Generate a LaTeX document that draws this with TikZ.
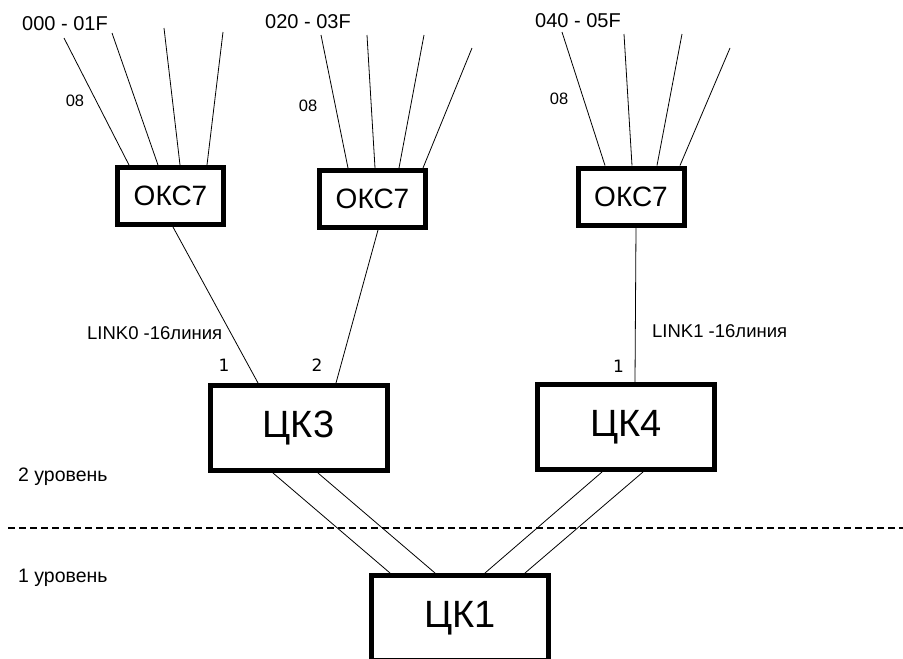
\documentclass[tikz,border=0pt]{standalone}
\usepackage{fontspec}
\setmainfont{Liberation Sans}
\newfontfamily\portfont{DejaVu Sans}
\usetikzlibrary{positioning, calc}
\tikzstyle{okc} = [rectangle, draw=black, line width=5pt, minimum width=106pt, minimum height=57pt, inner sep=0pt, text centered, font=\fontsize{28}{30}\selectfont]
\tikzstyle{ck} = [rectangle, draw=black, line width=5pt, minimum width=177pt, minimum height=85pt, inner sep=0pt, text centered, font=\fontsize{38}{40}\selectfont]
\tikzstyle{wire} = [draw, line width=0.8pt]
\tikzstyle{rangelabel} = [anchor=west, inner sep=0pt, font=\fontsize{20}{22}\selectfont]
\tikzstyle{cnt} = [inner sep=0pt, font=\fontsize{16.5}{18}\selectfont]
\tikzstyle{linklabel} = [anchor=west, inner sep=0pt, font=\fontsize{18.5}{20}\selectfont]
\tikzstyle{port} = [inner sep=0pt, font=\portfont\fontsize{17}{19}\selectfont]
\tikzstyle{levellabel} = [anchor=west, inner sep=0pt, font=\fontsize{19.5}{21}\selectfont]

\begin{document}
\begin{tikzpicture}[x=1pt, y=-1pt]
\useasboundingbox (0,0) rectangle (903,659);
% boxes
\node(okc1)[okc] at (170.5,196) {ОКС7};
\node(okc2)[okc] at (372.5,199) {ОКС7};
\node(okc3)[okc] at (631,196.5) {ОКС7};
\node(ck3)[ck] at (298.5,428) {ЦК3};
\node(ck4)[ck] at (626,427) {ЦК4};
\node(ck1)[ck, minimum height=84.5pt] at (460,617.75) {ЦК1};
% texts
\node(r1)[rangelabel] at (22,24) {000 - 01F};
\node(r2)[rangelabel] at (265,22) {020 - 03F};
\node(r3)[rangelabel] at (535,21) {040 - 05F};
\node(c1)[cnt] at (75,101) {08};
\node(c2)[cnt] at (308,106) {08};
\node(c3)[cnt] at (559,99) {08};
\node(l0)[linklabel] at (87,333) {LINK0 -16линия};
\node(l1)[linklabel] at (652,331) {LINK1 -16линия};
\node(p31)[port] at (224,365) {1};
\node(p32)[port] at (317,365) {2};
\node(p41)[port] at (618.5,366) {1};
\node(lev2)[levellabel] at (18,477) {2 уровень};
\node(lev1)[levellabel] at (18,578) {1 уровень};
% free ends of the trunks
\coordinate (t11) at (64,38);
\coordinate (t12) at (112,33);
\coordinate (t13) at (164,28);
\coordinate (t14) at (223,32);
\coordinate (t21) at (321,35);
\coordinate (t22) at (367,35);
\coordinate (t23) at (424,35);
\coordinate (t24) at (472,48);
\coordinate (t31) at (562,32);
\coordinate (t32) at (624,34);
\coordinate (t33) at (682,34);
\coordinate (t34) at (730,48);
\draw [wire] (t11) -- ([xshift=-41.5pt]okc1.north);
\draw [wire] (t12) -- ([xshift=-12.5pt]okc1.north);
\draw [wire] (t13) -- ([xshift=9.5pt]okc1.north);
\draw [wire] (t14) -- ([xshift=36.5pt]okc1.north);
\draw [wire] (t21) -- ([xshift=-24.5pt]okc2.north);
\draw [wire] (t22) -- ([xshift=2.5pt]okc2.north);
\draw [wire] (t23) -- ([xshift=26.5pt]okc2.north);
\draw [wire] (t24) -- ([xshift=50.5pt]okc2.north);
\draw [wire] (t31) -- ([xshift=-26pt]okc3.north);
\draw [wire] (t32) -- ([xshift=1pt]okc3.north);
\draw [wire] (t33) -- ([xshift=26pt]okc3.north);
\draw [wire] (t34) -- ([xshift=49pt]okc3.north);
% links
\draw [wire] ([xshift=2.5pt]okc1.south) -- ([xshift=-40.5pt]ck3.north);
\draw [wire] ([xshift=5.5pt]okc2.south) -- ([xshift=37.5pt]ck3.north);
\draw [wire] ([xshift=5pt]okc3.south) -- ([xshift=9pt]ck4.north);
\draw [wire] ([xshift=-25.5pt]ck3.south) -- ([xshift=-70pt]ck1.north);
\draw [wire] ([xshift=19.5pt]ck3.south) -- ([xshift=-25pt]ck1.north);
\draw [wire] ([xshift=-24pt]ck4.south) -- ([xshift=25pt]ck1.north);
\draw [wire] ([xshift=17pt]ck4.south) -- ([xshift=65pt]ck1.north);
% level border
\coordinate (d0) at (8,528);
\coordinate (d1) at (903,528);
\draw [line width=1.8pt, dash pattern=on 7pt off 4pt] (d0) -- (d1);
\end{tikzpicture}
\end{document}
